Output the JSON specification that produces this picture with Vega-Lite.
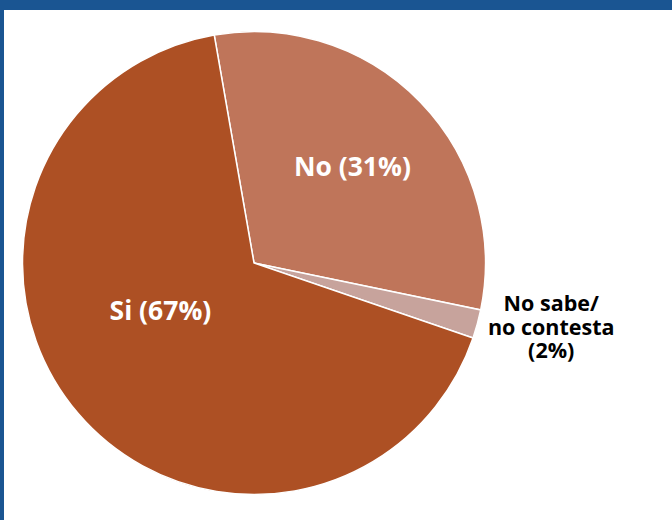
{
  "$schema": "https://vega.github.io/schema/vega-lite/v6.json",
  "padding": 0,
  "background": "white",
  "config": {"view": {"stroke": null}},
  "datasets": {
    "d": [
      {"cat": "No", "pct": 31, "label": "No (31%)"},
      {"cat": "No sabe/no contesta", "pct": 2, "label": "No sabe/\nno contesta\n(2%)"},
      {"cat": "Si", "pct": 67, "label": "Si (67%)"}
    ]
  },
  "bounds": "flush",
  "spacing": 0,
  "vconcat": [
    {
      "width": 672, "height": 10,
      "view": {"fill": "#1A5592", "stroke": null},
      "data": {"values": []},
      "mark": {"type": "rule", "opacity": 0},
      "encoding": {}
    },
    {
      "spacing": 0,
      "bounds": "flush",
      "hconcat": [
        {
          "width": 4, "height": 510,
          "view": {"fill": "#1A5592", "stroke": null},
          "data": {"values": []},
          "mark": {"type": "rule", "opacity": 0},
          "encoding": {}
        },
        {
          "width": 500, "height": 506,
          "data": {"name": "d"},
          "encoding": {
            "theta": {"field": "pct", "type": "quantitative", "stack": true, "scale": {"range": [-0.1728, 6.1104]}},
            "order": {"field": "cat", "type": "nominal", "sort": "ascending"}
          },
          "layer": [
            {
              "mark": {"type": "arc", "outerRadius": 231.5, "stroke": "white", "strokeWidth": 1.5},
              "encoding": {
                "color": {"field": "cat", "type": "nominal",
                  "scale": {"domain": ["No", "No sabe/no contesta", "Si"], "range": ["#BF755A", "#C7A39C", "#AD5024"]},
                  "legend": null}
              }
            },
            {
              "mark": {"type": "text", "radius": 137, "font": "Open Sans", "fontWeight": "bold", "fontSize": 26.5, "fill": "white", "align": "center", "baseline": "middle"},
              "encoding": {"text": {"condition": {"test": "datum.cat === 'No'", "field": "label"}, "value": ""}}
            },
            {
              "mark": {"type": "text", "radius": 106, "dx": -13, "dy": -20, "font": "Open Sans", "fontWeight": "bold", "fontSize": 26.5, "fill": "white", "align": "center", "baseline": "middle"},
              "encoding": {"text": {"condition": {"test": "datum.cat === 'Si'", "field": "label"}, "value": ""}}
            },
            {
              "mark": {"type": "text", "radius": 304, "dx": 4, "dy": -38, "font": "Open Sans", "fontWeight": "bold", "fontSize": 21.5, "lineBreak": "\n", "lineHeight": 23.5, "fill": "black", "align": "center", "baseline": "middle"},
              "encoding": {"text": {"condition": {"test": "datum.cat === 'No sabe/no contesta'", "field": "label"}, "value": ""}}
            }
          ]
        }
      ]
    }
  ]
}
